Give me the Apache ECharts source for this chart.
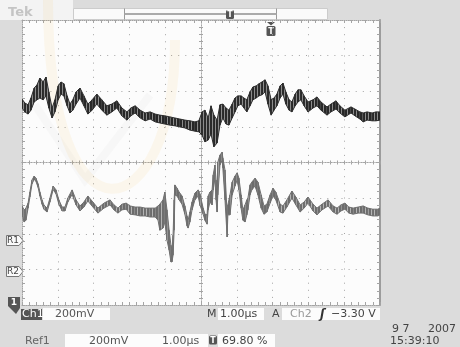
<!DOCTYPE html>
<html>
<head>
<meta charset="utf-8">
<script src="https://cdn.jsdelivr.net/npm/echarts@6/dist/echarts.min.js"></script>
<style>
html,body{margin:0;padding:0;background:#dcdcdc;}
#chart{width:460px;height:347px;}
</style>
</head>
<body>
<div id="chart"></div>
<script>
// time in µs (1.00 µs/div), level in divisions from the screen centre
// each sample: [time, top of trace, bottom of trace]
const ch1Samples = [
    [0.00,1.78,1.53],[0.08,1.67,1.42],[0.17,1.62,1.36],[0.25,1.81,1.47],[0.34,2.09,1.70],[0.42,2.18,1.76],
    [0.50,2.37,1.81],[0.59,2.26,1.76],[0.67,2.40,1.87],[0.75,1.98,1.53],[0.84,1.53,1.25],[0.92,1.76,1.42],
    [1.01,2.15,1.76],[1.09,2.26,1.92],[1.17,2.21,1.87],[1.26,1.87,1.59],[1.34,1.64,1.39],[1.42,1.76,1.47],
    [1.51,1.98,1.64],[1.62,2.09,1.81],[1.73,1.87,1.59],[1.84,1.64,1.36],[1.96,1.76,1.47],[2.09,1.92,1.64],
    [2.23,1.76,1.47],[2.37,1.59,1.33],[2.51,1.64,1.42],[2.65,1.73,1.53],[2.79,1.53,1.31],[2.93,1.42,1.19],
    [3.04,1.53,1.31],[3.16,1.59,1.39],[3.30,1.47,1.25],[3.44,1.39,1.17],[3.58,1.42,1.22],[3.72,1.36,1.14],
    [3.85,1.33,1.11],[3.99,1.31,1.08],[4.13,1.28,1.05],[4.27,1.25,1.03],[4.41,1.22,1.00],[4.55,1.19,0.97],
    [4.69,1.17,0.91],[4.83,1.14,0.88],[4.94,1.17,0.86],[5.03,1.42,0.77],[5.11,1.47,0.58],[5.20,1.25,0.63],
    [5.28,1.59,0.80],[5.36,1.33,0.44],[5.45,1.19,0.55],[5.53,1.62,1.05],[5.61,1.64,1.25],[5.70,1.53,1.08],
    [5.78,1.47,1.05],[5.87,1.64,1.25],[5.95,1.81,1.42],[6.03,1.87,1.59],[6.12,1.87,1.64],[6.20,1.81,1.53],
    [6.28,1.76,1.42],[6.37,1.98,1.59],[6.45,2.12,1.76],[6.54,2.15,1.81],[6.62,2.21,1.87],[6.70,2.26,1.90],
    [6.79,2.32,1.98],[6.87,2.15,1.64],[6.96,1.76,1.33],[7.04,1.81,1.47],[7.12,1.92,1.59],[7.21,2.15,1.81],
    [7.29,2.23,1.92],[7.37,1.98,1.64],[7.46,1.76,1.47],[7.54,1.70,1.42],[7.63,1.92,1.59],[7.71,2.04,1.70],
    [7.79,2.04,1.76],[7.88,1.87,1.59],[7.99,1.70,1.42],[8.13,1.76,1.53],[8.24,1.84,1.59],[8.35,1.70,1.47],
    [8.52,1.56,1.33],[8.63,1.64,1.42],[8.77,1.73,1.50],[8.88,1.59,1.39],[9.02,1.47,1.28],[9.19,1.56,1.39],
    [9.30,1.50,1.31],[9.44,1.42,1.22],[9.53,1.39,1.14],[9.64,1.42,1.19],[9.78,1.39,1.17],[9.89,1.42,1.17],
    [10.00,1.42,1.19]
];
const ref1Samples = [
    [0.00,-1.22,-1.45],[0.06,-1.33,-1.67],[0.11,-1.28,-1.62],[0.17,-1.14,-1.28],[0.22,-0.83,-0.97],[0.28,-0.49,-0.60],
    [0.34,-0.38,-0.47],[0.39,-0.44,-0.53],[0.45,-0.60,-0.70],[0.50,-0.83,-0.94],[0.56,-1.05,-1.17],[0.61,-1.19,-1.31],
    [0.70,-1.28,-1.39],[0.78,-1.00,-1.11],[0.87,-0.66,-0.76],[0.95,-0.77,-0.88],[1.03,-1.05,-1.17],[1.12,-1.25,-1.36],
    [1.20,-1.25,-1.36],[1.28,-1.00,-1.11],[1.40,-0.77,-0.90],[1.51,-1.05,-1.19],[1.62,-1.22,-1.36],[1.73,-1.11,-1.25],
    [1.84,-0.94,-1.08],[1.98,-1.11,-1.25],[2.12,-1.28,-1.42],[2.29,-1.14,-1.28],[2.46,-1.05,-1.19],[2.57,-1.19,-1.33],
    [2.68,-1.28,-1.42],[2.79,-1.17,-1.33],[2.91,-1.14,-1.31],[3.02,-1.22,-1.45],[3.16,-1.25,-1.47],[3.30,-1.25,-1.50],
    [3.44,-1.28,-1.50],[3.58,-1.28,-1.53],[3.72,-1.28,-1.53],[3.80,-1.22,-1.62],[3.85,-1.17,-1.90],[3.94,-1.05,-1.84],
    [3.99,-0.83,-1.67],[4.05,-1.33,-2.18],[4.11,-1.90,-2.46],[4.16,-2.32,-2.79],[4.19,-2.46,-2.79],[4.22,-2.04,-2.60],
    [4.25,-1.05,-1.90],[4.27,-0.63,-0.91],[4.33,-0.72,-0.94],[4.39,-0.83,-1.05],[4.47,-0.94,-1.17],[4.55,-1.22,-1.45],
    [4.61,-1.50,-1.78],[4.64,-1.62,-1.84],[4.69,-1.39,-1.67],[4.75,-1.11,-1.33],[4.83,-0.86,-1.05],[4.92,-0.77,-0.94],
    [4.97,-0.88,-1.19],[5.06,-1.28,-1.45],[5.11,-1.45,-1.62],[5.17,-1.47,-1.73],[5.20,-0.94,-1.33],[5.25,-0.83,-1.11],
    [5.31,-0.77,-1.19],[5.34,-0.35,-0.77],[5.39,-0.07,-0.44],[5.42,-0.49,-1.05],[5.45,-0.77,-1.39],[5.47,0.01,-0.91],
    [5.53,0.21,-0.07],[5.59,0.29,0.07],[5.61,0.13,-0.15],[5.67,-0.21,-1.05],[5.73,-1.47,-2.09],[5.75,-1.19,-1.47],
    [5.81,-0.91,-1.47],[5.87,-0.55,-0.91],[5.95,-0.38,-0.66],[6.01,-0.29,-0.49],[6.06,-0.44,-0.77],[6.12,-0.91,-1.28],
    [6.17,-1.33,-1.62],[6.23,-1.19,-1.67],[6.28,-1.05,-1.47],[6.31,-1.00,-1.33],[6.37,-0.63,-0.91],[6.42,-0.55,-0.77],
    [6.51,-0.44,-0.66],[6.59,-0.55,-0.91],[6.68,-0.91,-1.28],[6.76,-1.22,-1.45],[6.84,-1.17,-1.39],[6.93,-0.91,-1.14],
    [7.01,-0.72,-0.94],[7.09,-0.83,-1.05],[7.21,-1.17,-1.39],[7.29,-1.22,-1.42],[7.40,-1.05,-1.25],[7.54,-0.80,-1.00],
    [7.65,-0.97,-1.19],[7.77,-1.19,-1.39],[7.88,-1.11,-1.28],[7.99,-0.97,-1.14],[8.13,-1.17,-1.36],[8.24,-1.28,-1.47],
    [8.38,-1.17,-1.33],[8.55,-1.05,-1.22],[8.69,-1.22,-1.39],[8.80,-1.28,-1.45],[8.91,-1.19,-1.36],[9.02,-1.14,-1.31],
    [9.13,-1.25,-1.42],[9.25,-1.28,-1.45],[9.39,-1.25,-1.42],[9.53,-1.22,-1.42],[9.66,-1.28,-1.47],[9.80,-1.31,-1.50],
    [9.94,-1.31,-1.50],[10.00,-1.28,-1.47]
];

const font = '11px "DejaVu Sans", sans-serif';
const gridColor = '#a4a4a4';

// vertical streak texture, like the persistence of a sampled trace
function stripes(dark, light) {
    const cv = document.createElement('canvas');
    cv.width = 3; cv.height = 4;
    const ctx = cv.getContext('2d');
    ctx.fillStyle = dark; ctx.fillRect(0, 0, 2, 4);
    ctx.fillStyle = light; ctx.fillRect(2, 0, 1, 4);
    return {image: cv, repeat: 'repeat'};
}

// a trace is drawn as a band between its top and bottom, one quad per sample step
function trace(name, samples, edge, fill) {
    return {
        type: 'custom', name: name, coordinateSystem: 'cartesian2d',
        silent: true, animation: false, clip: true,
        data: samples,
        encode: {x: 0, y: [1, 2]},
        renderItem: function (params, api) {
            const i = params.dataIndex;
            if (i >= samples.length - 1) return null;
            const a = samples[i], b = samples[i + 1];
            return {
                type: 'polygon',
                shape: {points: [api.coord([a[0], a[1]]), api.coord([b[0], b[1]]),
                                 api.coord([b[0], b[2]]), api.coord([a[0], a[2]])]},
                style: {fill: fill, stroke: edge, lineWidth: 1, lineJoin: 'round'}
            };
        }
    };
}

function edgeAxis(pos, offset, inside, len, lineType, split, isX) {
    return {
        type: 'value', position: pos, offset: offset,
        min: isX ? 0 : -4, max: isX ? 10 : 4, interval: 1,
        axisLine: {show: true, onZero: false, lineStyle: {color: gridColor, width: 1, type: lineType}},
        axisTick: {show: true, inside: inside, length: len, lineStyle: {color: gridColor}},
        minorTick: {show: true, splitNumber: 5, length: len, lineStyle: {color: gridColor}},
        axisLabel: {show: false},
        splitLine: {show: split, lineStyle: {color: gridColor, width: 1, type: [1, 6.1]}}
    };
}

function txt(s, x, y, color, f, align) {
    return {type: 'text', x: x, y: y, silent: true,
        style: {text: s, fill: color, font: f || font, textAlign: align || 'left', align: align || 'left',
                textVerticalAlign: 'middle', verticalAlign: 'middle'}};
}
function box(x, y, w, h, fill, stroke) {
    return {type: 'rect', silent: true, shape: {x: x, y: y, width: w, height: h},
        style: {fill: fill, stroke: stroke || null, lineWidth: 1}};
}
function tIcon(x, y, w, h) {
    return [
        {type: 'rect', silent: true, shape: {x: x, y: y, width: w, height: h, r: 1.5}, style: {fill: '#555'}},
        txt('T', x + w / 2, y + h / 2 + 0.5, '#fff', 'bold 8px "DejaVu Sans", sans-serif', 'center')
    ];
}

const chart = echarts.init(document.getElementById('chart'));
chart.setOption({
    backgroundColor: '#dcdcdc',
    animation: false,
    grid: {left: 22, top: 20, width: 358, height: 285, show: true, backgroundColor: '#fcfcfc', borderWidth: 0},
    xAxis: [
        edgeAxis('bottom', 0, true, 3, [1, 1], true, true),
        edgeAxis('top', 0, true, 3, [1, 1], false, true),
        edgeAxis('bottom', -142.5, false, 2, [1, 2], false, true),
        edgeAxis('top', -142.5, false, 2, [1, 2], false, true)
    ],
    yAxis: [
        edgeAxis('left', 0, true, 3, [1, 1], true, false),
        Object.assign(edgeAxis('right', 0, true, 3, 'solid', false, false),
            {axisLine: {show: true, onZero: false, lineStyle: {color: '#9c9c9c', width: 2}}}),
        edgeAxis('left', -179, false, 2, [1, 2], false, false),
        edgeAxis('right', -179, false, 2, [1, 2], false, false)
    ],
    series: [
        trace('Ref1', ref1Samples, '#707070', stripes('#6c6c6c', '#b4b4b4')),
        trace('Ch1', ch1Samples, '#2e2e2e', stripes('#262626', '#8c8c8c'))
    ],
    graphic: {elements: [].concat(
        [box(0, 0, 73, 20, '#f3f3f3'),
         txt('Tek', 8, 13, '#c4c4c4', 'bold 13px "DejaVu Sans", sans-serif'),
         // faint watermark left on the screenshot
         {type: 'bezierCurve', silent: true, z: 1,
            shape: {x1: 48, y1: 0, cpx1: 48, cpy1: 260, cpx2: 175, cpy2: 230, x2: 175, y2: 40},
            style: {stroke: 'rgba(240,175,50,0.08)', lineWidth: 10, fill: null}},
         {type: 'polyline', silent: true, z: 1,
            shape: {points: [[35, 105], [85, 180], [150, 95]]},
            style: {stroke: 'rgba(120,120,120,0.035)', lineWidth: 8}},
         box(73.5, 8.5, 254, 11, '#fafafa', '#cccccc'),
         {type: 'polyline', silent: true, shape: {points: [[124.5, 8.5], [124.5, 19.5]]}, style: {stroke: '#999', lineWidth: 1}},
         {type: 'polyline', silent: true, shape: {points: [[276.5, 8.5], [276.5, 19.5]]}, style: {stroke: '#999', lineWidth: 1}},
         {type: 'rect', silent: true, shape: {x: 124.5, y: 13, width: 152, height: 2}, style: {fill: '#aaa'}}],
        tIcon(226, 10, 8, 9),
        [{type: 'polygon', silent: true, shape: {points: [[267, 22], [275, 22], [271, 25.5]]}, style: {fill: '#555'}}],
        tIcon(266.5, 26, 9, 10),
        // reference / channel markers on the left
        [{type: 'polygon', silent: true, shape: {points: [[6.5, 235.5], [19, 235.5], [23, 240.5], [19, 245.5], [6.5, 245.5]]},
            style: {fill: '#fafafa', stroke: '#777', lineWidth: 1}},
         txt('R1', 7, 241, '#444', '9px "DejaVu Sans", sans-serif'),
         {type: 'polygon', silent: true, shape: {points: [[6.5, 266.5], [19, 266.5], [23, 271.5], [19, 276.5], [6.5, 276.5]]},
            style: {fill: '#fafafa', stroke: '#777', lineWidth: 1}},
         txt('R2', 7, 272, '#444', '9px "DejaVu Sans", sans-serif'),
         {type: 'polygon', silent: true, shape: {points: [[8, 297], [20, 297], [20, 308], [16, 314], [8, 306]]}, style: {fill: '#555'}},
         txt('1', 14, 303, '#fff', 'bold 9px "DejaVu Sans", sans-serif', 'center')],
        // readouts, first row
        [box(21, 309, 21, 11, '#555'),
         txt('Ch1', 22, 314.5, '#fff'),
         box(43, 308, 67, 12, '#fcfcfc'),
         txt('200mV', 55, 314.5, '#555'),
         txt('M', 207, 314.5, '#444'),
         box(218, 308, 46, 12, '#fcfcfc'),
         txt('1.00µs', 220, 314.5, '#444'),
         txt('A', 272, 314.5, '#444'),
         box(282, 308, 98, 12, '#fcfcfc'),
         txt('Ch2', 290, 314.5, '#999'),
         txt('ʃ', 320, 314.5, '#333', 'italic bold 12px "DejaVu Sans", sans-serif'),
         txt('\u22123.30 V', 331, 314.5, '#444')],
        // second row
        [txt('Ref1', 25, 341, '#666'),
         box(65, 334, 143, 13, '#fcfcfc'),
         txt('200mV', 89, 341, '#555'),
         txt('1.00µs', 162, 341, '#555')],
        tIcon(209, 335.5, 8, 9),
        [box(218, 334, 57, 13, '#fcfcfc'),
         txt('69.80 %', 222, 341, '#444'),
         txt('9 7', 392, 329, '#444'),
         txt('2007', 428, 329, '#444'),
         txt('15:39:10', 390, 341, '#444')]
    )}
});
</script>
</body>
</html>
